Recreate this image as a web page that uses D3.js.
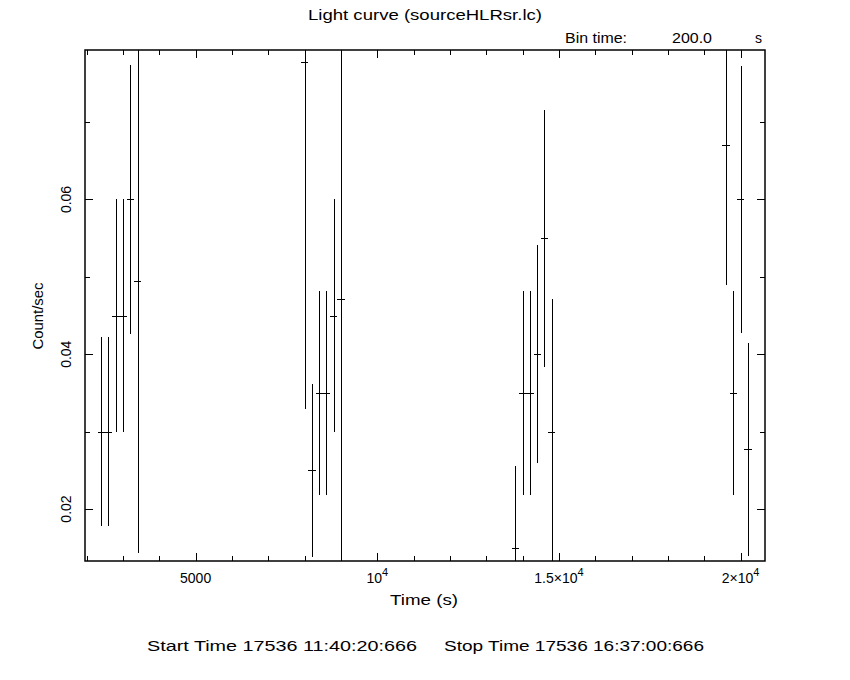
<!DOCTYPE html>
<html>
<head>
<meta charset="utf-8">
<script src="https://cdn.jsdelivr.net/npm/d3@7"></script>
<style>
  html, body { margin: 0; padding: 0; background: #fff; }
  text { font-family: "Liberation Sans", Arial, sans-serif; fill: #000; }
</style>
</head>
<body>
<svg id="chart" width="850" height="680"></svg>
<script>
// ---- data ----
const times = [2400, 2600, 2800, 3000, 3200, 3400,
               8000, 8200, 8400, 8600, 8800, 9000,
               13800, 14000, 14200, 14400, 14600, 14800,
               19600, 19800, 20000, 20200];
const rates = [0.030, 0.030, 0.045, 0.045, 0.060, 0.0495,
               0.0778, 0.025, 0.035, 0.035, 0.045, 0.0471,
               0.0149, 0.035, 0.035, 0.040, 0.055, 0.030,
               0.067, 0.035, 0.060, 0.0277];
const rateErrors = [0.01225, 0.01225, 0.015, 0.015, 0.01732, 0.0352,
                    0.0449, 0.0112, 0.0132, 0.0132, 0.015, 0.0471,
                    0.0106, 0.0132, 0.0132, 0.0141, 0.0166, 0.0172,
                    0.0181, 0.0132, 0.0173, 0.0138];
const binTime = 200;
const xMajorTicks = [5000, 10000, 15000, 20000];
const xMinorTicks = d3.range(2000, 20001, 1000).filter(v => v % 5000 !== 0);
const xTickLabels = [{base: "5000", sup: ""}, {base: "10", sup: "4"}, {base: "1.5\u00d710", sup: "4"}, {base: "2\u00d710", sup: "4"}];
const yMajorTicks = [0.02, 0.04, 0.06];
const yMinorTicks = [0.03, 0.05, 0.07];
const yTickLabels = ["0.02", "0.04", "0.06"];
const titleText = "Light curve (sourceHLRsr.lc)";
const binLabel = ["Bin time:", "200.0", "s"];
const xTitle = "Time (s)";
const yTitle = "Count/sec";
const startText = "Start Time 17536 11:40:20:666";
const stopText = "Stop Time 17536 16:37:00:666";

// ---- layout ----
const L = 85, R = 765, T = 50, B = 561;
const svg = d3.select("#chart");
svg.append("rect").attr("width", 850).attr("height", 680).attr("fill", "#fff");

const x = d3.scaleLinear().domain([1955, 20670]).range([L, R]);
const y = d3.scaleLinear().domain([0.01328, 0.07932]).range([B, T]);
const px = v => Math.round(v) + 0.5;

svg.append("clipPath").attr("id", "plotclip")
  .append("rect").attr("x", L).attr("y", T).attr("width", R - L).attr("height", B - T);

// ---- axes (inward ticks, mirrored) ----
function styleAxis(g) {
  g.select(".domain").remove();
  g.selectAll("text").remove();
  g.selectAll("line").attr("stroke", "#000").attr("stroke-width", 1).attr("shape-rendering", "crispEdges");
}
svg.append("g").attr("transform", `translate(0,${B})`)
  .call(d3.axisBottom(x).tickValues(xMajorTicks).tickSize(-8).tickSizeOuter(0)).call(styleAxis);
svg.append("g").attr("transform", `translate(0,${B})`)
  .call(d3.axisBottom(x).tickValues(xMinorTicks).tickSize(-5).tickSizeOuter(0)).call(styleAxis);
svg.append("g").attr("transform", `translate(0,${T})`)
  .call(d3.axisTop(x).tickValues(xMajorTicks).tickSize(-8).tickSizeOuter(0)).call(styleAxis);
svg.append("g").attr("transform", `translate(0,${T})`)
  .call(d3.axisTop(x).tickValues(xMinorTicks).tickSize(-5).tickSizeOuter(0)).call(styleAxis);
svg.append("g").attr("transform", `translate(${L},0)`)
  .call(d3.axisLeft(y).tickValues(yMajorTicks).tickSize(-8).tickSizeOuter(0)).call(styleAxis);
svg.append("g").attr("transform", `translate(${L},0)`)
  .call(d3.axisLeft(y).tickValues(yMinorTicks).tickSize(-5).tickSizeOuter(0)).call(styleAxis);
svg.append("g").attr("transform", `translate(${R},0)`)
  .call(d3.axisRight(y).tickValues(yMajorTicks).tickSize(-8).tickSizeOuter(0)).call(styleAxis);
svg.append("g").attr("transform", `translate(${R},0)`)
  .call(d3.axisRight(y).tickValues(yMinorTicks).tickSize(-5).tickSizeOuter(0)).call(styleAxis);

// frame
svg.append("rect").attr("x", L).attr("y", T).attr("width", R - L).attr("height", B - T)
  .attr("fill", "none").attr("stroke", "#000").attr("stroke-width", 1.5);

// ---- data: error bars ----
const data = times.map((t, i) => ({t, r: rates[i], e: rateErrors[i]}));
const gData = svg.append("g").attr("clip-path", "url(#plotclip)")
  .attr("stroke", "#000").attr("stroke-width", 1).attr("shape-rendering", "crispEdges");
gData.selectAll("line.v").data(data).join("line").attr("class", "v")
  .attr("x1", d => px(x(d.t))).attr("x2", d => px(x(d.t)))
  .attr("y1", d => y(d.r - d.e)).attr("y2", d => y(d.r + d.e));
gData.selectAll("line.h").data(data).join("line").attr("class", "h")
  .attr("x1", d => x(d.t - binTime / 2)).attr("x2", d => x(d.t + binTime / 2))
  .attr("y1", d => px(y(d.r))).attr("y2", d => px(y(d.r)));

// ---- tick labels ----
const fs = 14;
const xl = svg.append("g").attr("font-size", fs);
xMajorTicks.forEach((v, i) => {
  const t = xl.append("text").attr("x", x(v)).attr("y", 583).attr("text-anchor", "middle");
  t.append("tspan").text(xTickLabels[i].base);
  if (xTickLabels[i].sup) t.append("tspan").attr("dy", -7).attr("font-size", 11).text(xTickLabels[i].sup);
});
yMajorTicks.forEach((v, i) => {
  svg.append("text").attr("font-size", fs).attr("text-anchor", "middle")
    .attr("transform", `translate(71,${y(v)}) rotate(-90)`).text(yTickLabels[i]);
});

// ---- titles ----
function label(txt, xx, yy, len, anchor) {
  return svg.append("text").attr("x", xx).attr("y", yy).attr("font-size", fs)
    .attr("text-anchor", anchor || "start")
    .attr("textLength", len).attr("lengthAdjust", "spacingAndGlyphs").text(txt);
}
label(titleText, 425, 20, 234, "middle");
label(binLabel[0], 565, 43, 62);
label(binLabel[1], 672, 43, 40);
svg.append("text").attr("x", 755).attr("y", 43).attr("font-size", fs).text(binLabel[2]);
label(xTitle, 424, 605, 68, "middle");
svg.append("text").attr("font-size", fs).attr("text-anchor", "middle")
  .attr("textLength", 67).attr("lengthAdjust", "spacingAndGlyphs")
  .attr("transform", "translate(43,316) rotate(-90)").text(yTitle);
label(startText, 147, 651, 270);
label(stopText, 444, 651, 260);
</script>
</body>
</html>
